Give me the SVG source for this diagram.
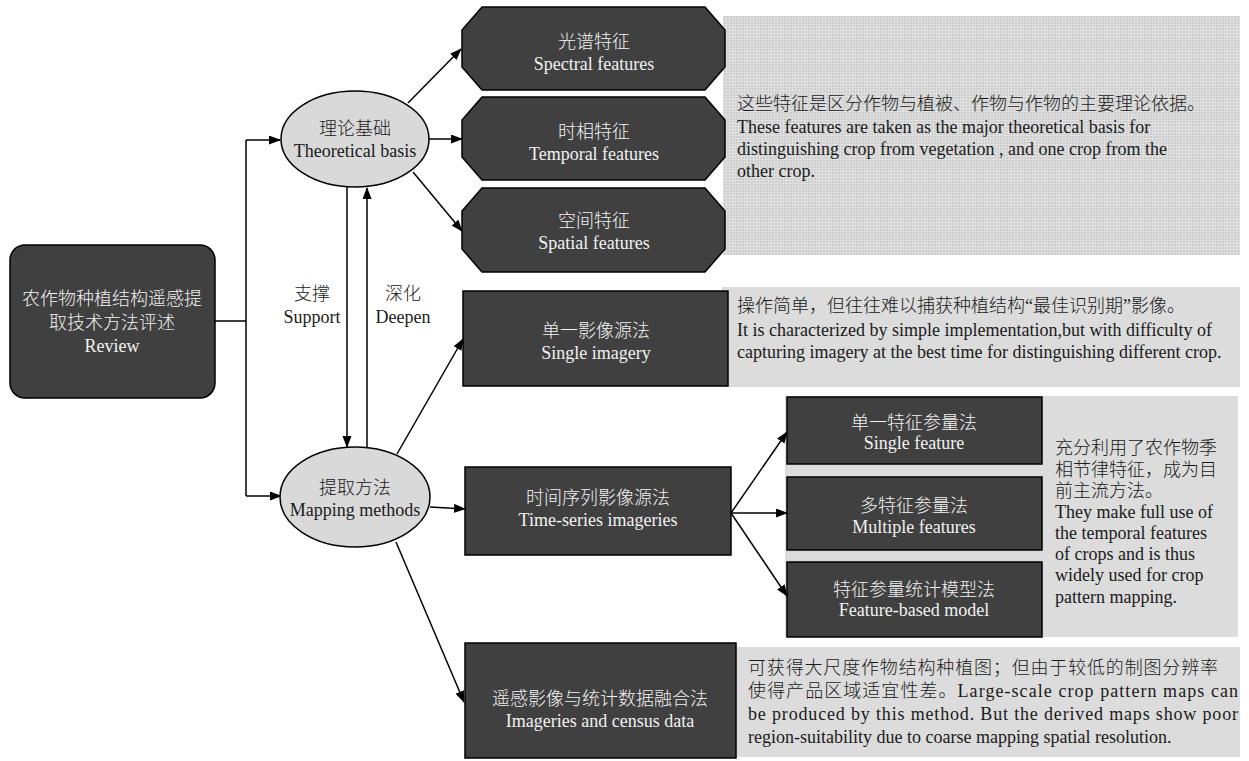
<svg xmlns="http://www.w3.org/2000/svg" width="1249" height="761" viewBox="0 0 1249 761">
<defs>
<style>
.dark{fill:#404040;stroke:#000;stroke-width:1.5}
.ell{fill:#d9d9d9;stroke:#000;stroke-width:1.5}
.gbox{fill:#dcdcdc}
.lt{font-family:"Liberation Serif","Noto Sans CJK SC",serif;font-size:18px;font-weight:300;fill:#f2f2f2;text-anchor:middle}
.dk{font-family:"Liberation Serif","Noto Sans CJK SC",serif;font-size:18px;font-weight:300;fill:#1a1a1a}
.dkc{font-family:"Liberation Serif","Noto Sans CJK SC",serif;font-size:18px;font-weight:300;fill:#1a1a1a;text-anchor:middle}
.ln{fill:none;stroke:#000;stroke-width:1.5}
.arr{fill:none;stroke:#000;stroke-width:1.5;marker-end:url(#ah)}
</style>
<marker id="ah" markerUnits="userSpaceOnUse" markerWidth="12" markerHeight="10" refX="11" refY="4.5" orient="auto">
<path d="M0,0 L12,4.5 L0,9 z" fill="#000"/>
</marker>
<pattern id="grid" width="3" height="3" patternUnits="userSpaceOnUse">
<rect width="3" height="3" fill="#cdcdcd"/>
<rect width="3" height="1" fill="#e0e0e0"/>
<rect width="1" height="3" fill="#e0e0e0"/>
</pattern>
</defs>
<rect width="1249" height="761" fill="#fff"/>

<g id="note-features">
<rect x="723" y="16" width="517" height="239" fill="url(#grid)"/>
<text class="dk" x="737" y="110">这些特征是区分作物与植被、作物与作物的主要理论依据。</text>
<text class="dk" x="737" y="133">These features are taken as the major theoretical basis for</text>
<text class="dk" x="737" y="155">distinguishing crop from vegetation , and one crop from the</text>
<text class="dk" x="737" y="177">other crop.</text>
</g>
<g id="note-single">
<rect class="gbox" x="722" y="287" width="518" height="100"/>
<text class="dk" x="737" y="312">操作简单，但往往难以捕获种植结构“最佳识别期”影像。</text>
<text class="dk" x="737" y="336">It is characterized by simple implementation,but with difficulty of</text>
<text class="dk" x="737" y="358">capturing imagery at the best time for distinguishing different crop.</text>
</g>
<g id="note-timeseries">
<rect class="gbox" x="785" y="396" width="453" height="241"/>
<text class="dk" x="1055" y="454">充分利用了农作物季</text>
<text class="dk" x="1055" y="476">相节律特征，成为目</text>
<text class="dk" x="1055" y="497">前主流方法。</text>
<text class="dk" x="1055" y="518">They make full use of</text>
<text class="dk" x="1055" y="539">the temporal features</text>
<text class="dk" x="1055" y="560">of crops and is thus</text>
<text class="dk" x="1055" y="581">widely used for crop</text>
<text class="dk" x="1055" y="603">pattern mapping.</text>
</g>
<g id="note-census">
<rect class="gbox" x="736" y="647" width="504" height="110"/>
<text class="dk" x="748" y="674" textLength="470" lengthAdjust="spacing">可获得大尺度作物结构种植图；但由于较低的制图分辨率</text>
<text class="dk" x="748" y="697" textLength="490" lengthAdjust="spacing">使得产品区域适宜性差。Large-scale crop pattern maps can</text>
<text class="dk" x="748" y="720" textLength="490" lengthAdjust="spacing">be produced by this method. But the derived maps show poor</text>
<text class="dk" x="748" y="743">region-suitability due to coarse mapping spatial resolution.</text>
</g>

<g id="connectors">
<polyline class="ln" points="215,321 246,321"/>
<polyline class="ln" points="246,140 246,496"/>
<line class="arr" x1="246" y1="140" x2="280" y2="140"/>
<line class="arr" x1="246" y1="496" x2="281" y2="496"/>
<line class="arr" x1="408" y1="103" x2="461" y2="49"/>
<line class="arr" x1="429" y1="139" x2="462" y2="139"/>
<line class="arr" x1="413" y1="172" x2="462" y2="231"/>
<line class="arr" x1="347" y1="186" x2="347" y2="447"/>
<line class="arr" x1="367" y1="448" x2="367" y2="188"/>
<line class="arr" x1="397" y1="454" x2="463" y2="339"/>
<line class="arr" x1="430" y1="507" x2="465" y2="509"/>
<line class="arr" x1="396" y1="542" x2="464" y2="702"/>
<line class="arr" x1="731" y1="513" x2="787" y2="432"/>
<line class="arr" x1="731" y1="513" x2="787" y2="513"/>
<line class="arr" x1="731" y1="513" x2="787" y2="596"/>
<text class="dkc" x="312" y="300">支撑</text>
<text class="dkc" x="312" y="323">Support</text>
<text class="dkc" x="403" y="300">深化</text>
<text class="dkc" x="403" y="323">Deepen</text>
</g>

<g id="review">
<rect class="dark" x="10" y="245" width="205" height="153" rx="15"/>
<text class="lt" x="112" y="305">农作物种植结构遥感提</text>
<text class="lt" x="112" y="329">取技术方法评述</text>
<text class="lt" x="112" y="352">Review</text>
</g>
<g id="theory">
<ellipse class="ell" cx="355" cy="139" rx="74" ry="48"/>
<text class="dkc" x="355" y="135">理论基础</text>
<text class="dkc" x="355" y="157">Theoretical basis</text>
</g>
<g id="methods">
<ellipse class="ell" cx="355" cy="497" rx="75" ry="50"/>
<text class="dkc" x="355" y="494">提取方法</text>
<text class="dkc" x="355" y="516">Mapping methods</text>
</g>
<g id="spectral">
<polygon class="dark" points="482,7 705,7 725,30 725,67 705,90 482,90 462,67 462,30"/>
<text class="lt" x="594" y="48">光谱特征</text>
<text class="lt" x="594" y="70">Spectral features</text>
</g>
<g id="temporal">
<polygon class="dark" points="482,97 705,97 725,120 725,157 705,180 482,180 462,157 462,120"/>
<text class="lt" x="594" y="138">时相特征</text>
<text class="lt" x="594" y="160">Temporal features</text>
</g>
<g id="spatial">
<polygon class="dark" points="482,188 705,188 725,211 725,249 705,272 482,272 462,249 462,211"/>
<text class="lt" x="594" y="227">空间特征</text>
<text class="lt" x="594" y="249">Spatial features</text>
</g>
<g id="single">
<rect class="dark" x="463" y="291" width="265" height="95"/>
<text class="lt" x="596" y="337">单一影像源法</text>
<text class="lt" x="596" y="359">Single imagery</text>
</g>
<g id="timeseries">
<rect class="dark" x="465" y="467" width="266" height="88"/>
<text class="lt" x="598" y="504">时间序列影像源法</text>
<text class="lt" x="598" y="526">Time-series imageries</text>
</g>
<g id="census">
<rect class="dark" x="465" y="643" width="271" height="115"/>
<text class="lt" x="600" y="705">遥感影像与统计数据融合法</text>
<text class="lt" x="600" y="727">Imageries and census data</text>
</g>
<g id="single-feature">
<rect class="dark" x="787" y="397" width="255" height="67"/>
<text class="lt" x="914" y="429">单一特征参量法</text>
<text class="lt" x="914" y="449">Single feature</text>
</g>
<g id="multi-feature">
<rect class="dark" x="787" y="477" width="255" height="73"/>
<text class="lt" x="914" y="512">多特征参量法</text>
<text class="lt" x="914" y="533">Multiple features</text>
</g>
<g id="feature-model">
<rect class="dark" x="787" y="562" width="255" height="75"/>
<text class="lt" x="914" y="596">特征参量统计模型法</text>
<text class="lt" x="914" y="616">Feature-based model</text>
</g>
</svg>
